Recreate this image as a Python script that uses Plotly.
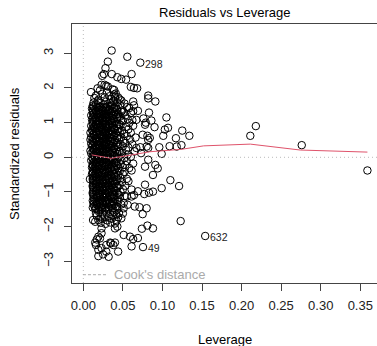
import plotly.graph_objects as go

# ---- data ----
# dense core of observations (leverage, standardized residual)
dense_lev = [
    0.021,0.030,0.037,0.041,
    0.016,0.024,0.033,0.039,0.044,
    0.014,0.019,0.027,0.035,0.040,0.048,
    0.013,0.018,0.022,0.029,0.034,0.038,0.043,0.052,
    0.012,0.016,0.021,0.026,0.031,0.036,0.041,0.047,0.055,
    0.011,0.015,0.019,0.024,0.028,0.033,0.037,0.042,0.049,0.058,
    0.012,0.016,0.020,0.023,0.027,0.031,0.035,0.039,0.044,0.051,0.060,
    0.010,0.014,0.018,0.022,0.026,0.029,0.033,0.037,0.041,0.046,0.053,
    0.011,0.015,0.019,0.023,0.027,0.030,0.034,0.038,0.043,0.048,0.056,0.062,
    0.012,0.016,0.020,0.024,0.028,0.032,0.036,0.040,0.045,0.050,0.058,
    0.010,0.014,0.018,0.022,0.025,0.029,0.033,0.037,0.042,0.047,0.054,0.063,
    0.011,0.015,0.019,0.023,0.027,0.031,0.035,0.039,0.044,0.049,0.057,
    0.009,0.013,0.017,0.021,0.025,0.028,0.032,0.036,0.041,0.046,0.052,0.060,
    0.010,0.014,0.018,0.022,0.026,0.030,0.034,0.038,0.043,0.048,0.055,0.066,
    0.009,0.012,0.016,0.020,0.024,0.027,0.031,0.035,0.040,0.045,0.051,0.059,
    0.010,0.014,0.018,0.022,0.026,0.029,0.033,0.037,0.042,0.047,0.053,0.062,
    0.011,0.015,0.019,0.023,0.027,0.031,0.035,0.039,0.044,0.050,0.057,
    0.009,0.013,0.017,0.021,0.025,0.028,0.032,0.036,0.041,0.046,0.054,0.065,
    0.010,0.014,0.018,0.022,0.026,0.030,0.034,0.038,0.043,0.049,0.056,
    0.011,0.015,0.019,0.023,0.027,0.031,0.035,0.040,0.045,0.052,0.060,
    0.010,0.014,0.018,0.022,0.026,0.029,0.033,0.037,0.042,0.048,0.055,
    0.012,0.016,0.020,0.024,0.028,0.032,0.036,0.041,0.047,0.053,0.063,
    0.011,0.015,0.019,0.023,0.027,0.031,0.035,0.039,0.044,0.050,0.058,
    0.012,0.016,0.020,0.024,0.028,0.032,0.036,0.040,0.046,0.052,0.061,
    0.011,0.015,0.019,0.023,0.027,0.031,0.035,0.039,0.044,0.050,
    0.012,0.016,0.020,0.024,0.028,0.032,0.036,0.041,0.047,0.055,
    0.013,0.017,0.021,0.025,0.029,0.033,0.037,0.042,0.049,0.057,
    0.012,0.016,0.020,0.024,0.028,0.032,0.036,0.040,0.046,0.053,
    0.013,0.017,0.021,0.025,0.029,0.033,0.038,0.043,0.050,
    0.012,0.016,0.020,0.024,0.028,0.032,0.036,0.041,0.047,
    0.013,0.017,0.021,0.025,0.029,0.034,0.039,0.045,0.052,
    0.014,0.018,0.022,0.026,0.030,0.035,0.040,0.046,
    0.013,0.017,0.021,0.025,0.029,0.033,0.038,0.044,0.051,
    0.014,0.018,0.022,0.026,0.031,0.036,0.041,0.048,
    0.015,0.019,0.023,0.027,0.032,0.037,0.043,
    0.016,0.020,0.024,0.029,0.034,0.039,0.045,
    0.017,0.022,0.027,0.032,0.038,0.044,
    0.019,0.024,0.030,0.036,0.042,
    0.022,0.028,0.034,0.040,
]
dense_res = [
    1.93,1.87,1.96,1.84,
    1.78,1.83,1.76,1.81,1.73,
    1.71,1.66,1.73,1.68,1.70,1.64,
    1.58,1.62,1.57,1.61,1.56,1.63,1.59,1.55,
    1.49,1.53,1.47,1.52,1.48,1.51,1.46,1.50,1.45,
    1.41,1.37,1.42,1.38,1.43,1.36,1.40,1.39,1.35,1.42,
    1.29,1.32,1.27,1.31,1.26,1.33,1.28,1.30,1.25,1.31,1.28,
    1.21,1.17,1.22,1.18,1.23,1.16,1.20,1.19,1.22,1.17,1.21,
    1.09,1.12,1.07,1.11,1.08,1.13,1.06,1.10,1.12,1.08,1.11,1.07,
    1.02,0.97,1.04,0.99,0.95,1.03,0.98,1.01,0.96,1.05,0.99,
    0.91,0.88,0.93,0.87,0.92,0.89,0.94,0.86,0.90,0.93,0.88,0.91,
    0.79,0.82,0.77,0.81,0.78,0.83,0.76,0.80,0.82,0.77,0.81,
    0.71,0.68,0.72,0.67,0.73,0.69,0.71,0.66,0.70,0.72,0.68,0.71,
    0.58,0.62,0.57,0.61,0.59,0.63,0.56,0.60,0.62,0.58,0.61,0.57,
    0.51,0.47,0.52,0.48,0.53,0.49,0.51,0.46,0.50,0.52,0.48,0.51,
    0.39,0.42,0.37,0.41,0.38,0.43,0.36,0.40,0.42,0.38,0.41,0.37,
    0.31,0.28,0.32,0.27,0.33,0.29,0.31,0.26,0.30,0.32,0.28,
    0.19,0.22,0.17,0.21,0.18,0.23,0.16,0.20,0.22,0.18,0.21,0.17,
    0.11,0.08,0.12,0.07,0.13,0.09,0.11,0.06,0.10,0.12,0.08,
    -0.01,0.02,-0.03,0.01,-0.02,0.03,-0.04,0.00,0.02,-0.02,0.01,
    -0.09,-0.12,-0.08,-0.11,-0.07,-0.13,-0.10,-0.08,-0.12,-0.09,-0.11,
    -0.21,-0.18,-0.22,-0.17,-0.23,-0.19,-0.21,-0.16,-0.20,-0.22,-0.18,
    -0.29,-0.32,-0.28,-0.31,-0.27,-0.33,-0.30,-0.28,-0.32,-0.29,-0.31,
    -0.41,-0.38,-0.42,-0.37,-0.43,-0.39,-0.41,-0.36,-0.40,-0.42,-0.38,
    -0.49,-0.52,-0.48,-0.51,-0.47,-0.53,-0.50,-0.48,-0.52,-0.49,
    -0.61,-0.58,-0.62,-0.57,-0.63,-0.59,-0.61,-0.56,-0.60,-0.62,
    -0.69,-0.72,-0.68,-0.71,-0.67,-0.73,-0.70,-0.68,-0.72,-0.69,
    -0.81,-0.78,-0.82,-0.77,-0.83,-0.79,-0.81,-0.76,-0.80,-0.82,
    -0.89,-0.92,-0.88,-0.91,-0.87,-0.93,-0.90,-0.88,-0.92,
    -1.01,-0.98,-1.02,-0.97,-1.03,-0.99,-1.01,-0.96,-1.00,
    -1.09,-1.12,-1.08,-1.11,-1.07,-1.13,-1.10,-1.08,-1.12,
    -1.21,-1.18,-1.22,-1.17,-1.23,-1.19,-1.21,-1.16,
    -1.29,-1.32,-1.28,-1.31,-1.27,-1.33,-1.30,-1.28,-1.32,
    -1.41,-1.38,-1.42,-1.37,-1.43,-1.39,-1.41,-1.36,
    -1.49,-1.52,-1.48,-1.51,-1.47,-1.53,-1.50,
    -1.61,-1.58,-1.62,-1.57,-1.63,-1.59,-1.61,
    -1.69,-1.72,-1.68,-1.71,-1.67,-1.73,
    -1.81,-1.78,-1.82,-1.77,-1.83,
    -1.89,-1.92,-1.88,-1.91,
]

# the most crowded part of the core (between the rows above)
core_lev = [
    0.013,0.017,0.021,0.025,0.029,0.034,0.039,
    0.012,0.016,0.020,0.024,0.028,0.032,0.037,0.043,
    0.013,0.017,0.021,0.025,0.029,0.034,0.039,
    0.012,0.016,0.020,0.024,0.028,0.032,0.037,0.043,
    0.013,0.017,0.021,0.025,0.029,0.034,0.039,
    0.012,0.016,0.020,0.024,0.028,0.032,0.037,0.043,
    0.013,0.017,0.021,0.025,0.029,0.034,0.039,
    0.012,0.016,0.020,0.024,0.028,0.032,0.037,0.043,
    0.013,0.017,0.021,0.025,0.029,0.034,0.039,
    0.012,0.016,0.020,0.024,0.028,0.032,0.037,0.043,
    0.013,0.017,0.021,0.025,0.029,0.034,0.039,
    0.012,0.016,0.020,0.024,0.028,0.032,0.037,0.043,
    0.013,0.017,0.021,0.025,0.029,0.034,0.039,
    0.012,0.016,0.020,0.024,0.028,0.032,0.037,0.043,
    0.013,0.017,0.021,0.025,0.029,0.034,0.039,
    0.012,0.016,0.020,0.024,0.028,0.032,0.037,0.043,
    0.013,0.017,0.021,0.025,0.029,0.034,0.039,
    0.012,0.016,0.020,0.024,0.028,0.032,0.037,0.043,
    0.013,0.017,0.021,0.025,0.029,0.034,0.039,
    0.012,0.016,0.020,0.024,0.028,0.032,0.037,0.043,
    0.013,0.017,0.021,0.025,0.029,0.034,0.039,
    0.012,0.016,0.020,0.024,0.028,0.032,0.037,0.043,
    0.013,0.017,0.021,0.025,0.029,0.034,0.039,
    0.012,0.016,0.020,0.024,0.028,0.032,0.037,0.043,
    0.013,0.017,0.021,0.025,0.029,0.034,0.039,
    0.012,0.016,0.020,0.024,0.028,0.032,0.037,0.043,
    0.013,0.017,0.021,0.025,0.029,0.034,0.039,
    0.012,0.016,0.020,0.024,0.028,0.032,0.037,0.043,
    0.013,0.017,0.021,0.025,0.029,0.034,0.039,
    0.012,0.016,0.020,0.024,0.028,0.032,0.037,0.043,
]
core_res = [
    1.45,1.44,1.46,1.43,1.45,1.47,1.44,
    1.35,1.33,1.36,1.34,1.35,1.37,1.33,1.36,
    1.25,1.24,1.26,1.23,1.25,1.27,1.24,
    1.15,1.13,1.16,1.14,1.15,1.17,1.13,1.16,
    1.05,1.04,1.06,1.03,1.05,1.07,1.04,
    0.95,0.93,0.96,0.94,0.95,0.97,0.93,0.96,
    0.85,0.84,0.86,0.83,0.85,0.87,0.84,
    0.75,0.73,0.76,0.74,0.75,0.77,0.73,0.76,
    0.65,0.64,0.66,0.63,0.65,0.67,0.64,
    0.55,0.53,0.56,0.54,0.55,0.57,0.53,0.56,
    0.45,0.44,0.46,0.43,0.45,0.47,0.44,
    0.35,0.33,0.36,0.34,0.35,0.37,0.33,0.36,
    0.25,0.24,0.26,0.23,0.25,0.27,0.24,
    0.15,0.13,0.16,0.14,0.15,0.17,0.13,0.16,
    0.05,0.04,0.06,0.03,0.05,0.07,0.04,
    -0.05,-0.07,-0.04,-0.06,-0.05,-0.03,-0.07,-0.04,
    -0.15,-0.16,-0.14,-0.17,-0.15,-0.13,-0.16,
    -0.25,-0.27,-0.24,-0.26,-0.25,-0.23,-0.27,-0.24,
    -0.35,-0.36,-0.34,-0.37,-0.35,-0.33,-0.36,
    -0.45,-0.47,-0.44,-0.46,-0.45,-0.43,-0.47,-0.44,
    -0.55,-0.56,-0.54,-0.57,-0.55,-0.53,-0.56,
    -0.65,-0.67,-0.64,-0.66,-0.65,-0.63,-0.67,-0.64,
    -0.75,-0.76,-0.74,-0.77,-0.75,-0.73,-0.76,
    -0.85,-0.87,-0.84,-0.86,-0.85,-0.83,-0.87,-0.84,
    -0.95,-0.96,-0.94,-0.97,-0.95,-0.93,-0.96,
    -1.05,-1.07,-1.04,-1.06,-1.05,-1.03,-1.07,-1.04,
    -1.15,-1.16,-1.14,-1.17,-1.15,-1.13,-1.16,
    -1.25,-1.27,-1.24,-1.26,-1.25,-1.23,-1.27,-1.24,
    -1.35,-1.36,-1.34,-1.37,-1.35,-1.33,-1.36,
    -1.45,-1.47,-1.44,-1.46,-1.45,-1.43,-1.47,-1.44,
]

# scattered observations outside the core
sparse_lev = [
    0.0358,0.0556,0.072,0.031,0.028,0.026,0.024,0.036,0.061,0.043,0.048,0.054,
    0.060,0.064,0.068,0.023,0.029,0.027,0.031,0.018,0.0097,0.082,0.082,0.091,
    0.063,0.064,0.069,0.063,0.083,0.105,0.076,0.067,0.086,0.079,0.078,0.090,
    0.103,0.107,0.125,0.101,0.117,0.134,0.211,0.218,0.276,0.109,0.118,0.124,
    0.096,0.099,0.081,0.082,0.075,0.084,0.080,0.072,0.073,0.082,0.067,0.048,
    0.046,0.040,0.039,
    0.359,0.082,0.091,0.094,0.088,0.078,0.110,0.121,0.099,0.088,0.083,0.077,
    0.064,0.061,0.055,0.078,0.061,0.069,0.056,0.065,0.071,0.080,0.075,0.123,
    0.081,0.074,0.088,0.154,0.051,0.059,0.063,0.069,0.061,0.0754,0.044,0.040,
    0.038,0.035,0.032,0.019,0.025,0.029,0.023,0.019,0.016,0.017,0.019,0.021,
    0.023,0.029,0.034,0.015,0.023,0.040,0.043,0.015,0.0123,0.048,0.050,0.051,
    0.042,0.0084,
]
sparse_res = [
    3.08,2.90,2.73,2.76,2.57,2.40,2.35,2.40,2.40,2.31,2.26,2.24,
    2.03,2.00,1.99,2.09,2.06,2.09,2.04,1.99,1.88,1.78,1.70,1.61,
    1.61,1.50,1.34,1.33,1.29,1.15,1.12,1.08,1.06,1.00,0.94,0.87,
    0.80,0.85,0.77,0.62,0.55,0.62,0.62,0.90,0.35,0.32,0.31,0.35,
    0.29,0.10,0.62,0.50,0.65,0.56,0.31,0.29,0.12,0.27,0.27,1.32,
    1.67,1.75,1.94,
    -0.38,-0.07,-0.22,-0.32,-0.51,-0.27,-0.66,-0.83,-0.89,-0.99,-1.02,-1.06,
    -1.09,-1.13,-1.13,-0.79,-0.93,-0.98,-1.37,-1.42,-1.44,-1.47,-1.64,-1.84,
    -1.97,-2.06,-2.05,-2.27,-2.24,-2.29,-2.36,-2.33,-2.57,-2.59,-2.72,-2.46,
    -2.53,-2.48,-2.87,-2.85,-2.80,-2.72,-2.62,-2.67,-2.53,-2.37,-2.29,-2.34,
    -2.19,-2.53,-2.46,-2.46,-2.05,-2.05,-2.00,-1.86,-1.81,-1.76,-1.62,-1.47,
    -1.66,-0.63,
]

# labelled extreme observations
id_labels = ["298", "632", "49"]
id_lev = [0.072, 0.154, 0.0754]
id_res = [2.73, -2.27, -2.59]

# smoothed trend (red line)
smooth_lev = [0.0106, 0.035, 0.059, 0.084, 0.124, 0.152, 0.211, 0.274, 0.359]
smooth_res = [0.07, -0.03, 0.06, 0.16, 0.23, 0.33, 0.38, 0.21, 0.15]

x_ticks = [0.00, 0.05, 0.10, 0.15, 0.20, 0.25, 0.30, 0.35]
x_ticktext = ["0.00", "0.05", "0.10", "0.15", "0.20", "0.25", "0.30", "0.35"]
y_ticks = [-3, -2, -1, 0, 1, 2, 3]

FONT = "Liberation Sans, Arial, Helvetica, sans-serif"
AX = "#444444"

fig = go.Figure()
fig.add_trace(go.Scatter(
    x=dense_lev + core_lev + sparse_lev, y=dense_res + core_res + sparse_res, mode="markers",
    marker=dict(symbol="circle-open", size=7.5, color="black",
                line=dict(width=1, color="black")),
    hoverinfo="skip", showlegend=False))
fig.add_trace(go.Scatter(
    x=smooth_lev, y=smooth_res, mode="lines",
    line=dict(color="#DF536B", width=1), hoverinfo="skip", showlegend=False))

for lab, lx, ly in zip(id_labels, id_lev, id_res):
    fig.add_annotation(x=lx, y=ly, text=lab, showarrow=False, xanchor="left",
                       xshift=3, yshift=-1, font=dict(size=10.5, color="#222", family=FONT))

# reference dotted lines
fig.add_shape(type="line", xref="x", yref="paper", x0=0, x1=0, y0=0, y1=1,
              line=dict(color="#bbbbbb", width=1, dash="1px,3px"))
fig.add_shape(type="line", xref="paper", yref="y", x0=0, x1=1, y0=0, y1=0,
              line=dict(color="#bbbbbb", width=1, dash="1px,3px"))

# Cook's distance legend
fig.add_shape(type="line", xref="paper", yref="paper", x0=0.036, x1=0.115, y0=0.032, y1=0.032,
              line=dict(color="#aaaaaa", width=1, dash="3px,2px"))
fig.add_annotation(xref="paper", yref="paper", x=0.131, y=0.032, text="Cook's distance",
                   showarrow=False, xanchor="left", yanchor="middle",
                   font=dict(size=13, color="#aaaaaa", family=FONT))

# titles
fig.add_annotation(xref="paper", yref="paper", x=0.503, y=1.0425, text="Residuals vs Leverage",
                   showarrow=False, xanchor="center", yanchor="middle",
                   font=dict(size=13, color="black", family=FONT))
fig.add_annotation(xref="paper", yref="paper", x=0.503, y=-0.22, text="Leverage",
                   showarrow=False, xanchor="center", yanchor="middle",
                   font=dict(size=13, color="black", family=FONT))
fig.add_annotation(xref="paper", yref="paper", x=-0.187, y=0.502, text="Standardized residuals",
                   showarrow=False, xanchor="center", yanchor="middle", textangle=-90,
                   font=dict(size=13, color="black", family=FONT))

fig.update_layout(
    width=377, height=346,
    margin=dict(l=72, r=0, t=24, b=63),
    paper_bgcolor="white", plot_bgcolor="white",
    font=dict(family=FONT, size=13, color="black"),
    xaxis=dict(range=[-0.0143, 0.3711], tickvals=x_ticks, ticktext=x_ticktext,
               showgrid=False, zeroline=False, showline=True, linecolor=AX, linewidth=1,
               mirror=True, ticks="outside", ticklen=7, tickcolor=AX, tickwidth=1,
               ticklabelstandoff=3, tickfont=dict(size=13, family=FONT, color="#222")),
    yaxis=dict(range=[-3.626, 3.845], tickvals=y_ticks,
               showgrid=False, zeroline=False, showline=True, linecolor=AX, linewidth=1,
               mirror=False, ticks="outside", ticklen=7, tickcolor=AX, tickwidth=1,
               tickangle=-90, ticklabelstandoff=6,
               tickfont=dict(size=13, family=FONT, color="#222")),
)

fig.write_html("out.html")
